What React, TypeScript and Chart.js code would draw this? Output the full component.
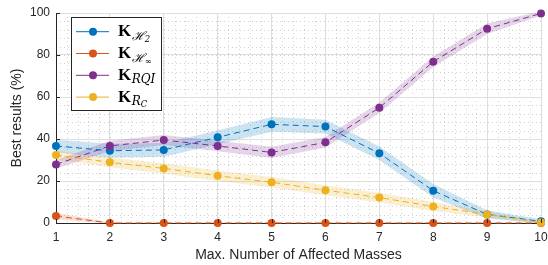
import React, { useEffect, useRef } from 'react';
import { Chart, registerables } from 'chart.js';
Chart.register(...registerables);

const categories = [1, 2, 3, 4, 5, 6, 7, 8, 9, 10];
const xTickLabels = ['1', '2', '3', '4', '5', '6', '7', '8', '9', '10'];
const yTickValues = [0, 20, 40, 60, 80, 100];

const kH2 = [36.7, 34.4, 34.8, 40.8, 47.0, 45.9, 33.2, 15.4, 4.1, 0.8];
const kHinf = [3.3, 0, 0, 0, 0, 0, 0, 0, 0, 0];
const kRQI = [27.9, 36.7, 39.5, 36.7, 33.6, 38.4, 54.9, 76.8, 92.5, 99.8];
const kRC = [32.4, 28.9, 26.0, 22.5, 19.4, 15.6, 12.1, 7.9, 4.1, 0.2];

const spreadH2 = [3.0, 3.3, 3.3, 3.3, 3.5, 3.3, 3.2, 3.2, 2.0, 1.0];
const spreadHinf = [1.5, 0.3, 0.3, 0.3, 0.3, 0.3, 0.3, 0.3, 0.3, 0.3];
const spreadRQI = [2.0, 2.5, 2.4, 2.5, 2.7, 2.5, 2.5, 2.5, 2.5, 1.0];
const spreadRC = [2.0, 2.3, 2.5, 2.5, 2.5, 2.4, 2.3, 2.2, 1.5, 0.5];

const BLUE = '#0072BD';
const ORANGE = '#D95319';
const YELLOW = '#EDB120';
const PURPLE = '#7E2F8E';

const seriesDefs = [
  { name: 'H2', values: kH2, spread: spreadH2, color: BLUE, band: 'rgba(0,114,189,0.2)', order: 3 },
  { name: 'Hinf', values: kHinf, spread: spreadHinf, color: ORANGE, band: 'rgba(217,83,25,0.2)', order: 2 },
  { name: 'RQI', values: kRQI, spread: spreadRQI, color: PURPLE, band: 'rgba(126,47,142,0.2)', order: 1 },
  { name: 'RC', values: kRC, spread: spreadRC, color: YELLOW, band: 'rgba(237,177,32,0.2)', order: 0 },
];

const legendItems = [
  { color: BLUE, parts: [{ t: '\u210B', s: 1 }, { t: '2', s: 2 }] },
  { color: ORANGE, parts: [{ t: '\u210B', s: 1 }, { t: '\u221E', s: 2 }] },
  { color: PURPLE, parts: [{ t: 'RQI', s: 1 }] },
  { color: YELLOW, parts: [{ t: 'R', s: 1 }, { t: 'C', s: 2 }] },
];

const AXIS = '#262626';

const minorGridPlugin = {
  id: 'minorGrid',
  beforeDraw(chart: any) {
    const { ctx, chartArea: a, scales } = chart;
    const xs = scales.x;
    const ys = scales.y;
    ctx.save();
    ctx.strokeStyle = '#d2d2d2';
    ctx.lineWidth = 1;
    ctx.setLineDash([1, 3]);
    for (let v = 1; v <= 10.0001; v += 0.2) {
      const px = Math.round(xs.getPixelForValue(v)) + 0.5;
      ctx.beginPath();
      ctx.moveTo(px, a.top);
      ctx.lineTo(px, a.bottom);
      ctx.stroke();
    }
    for (let v = 0; v <= 100.0001; v += 4) {
      const py = Math.round(ys.getPixelForValue(v)) + 0.5;
      ctx.beginPath();
      ctx.moveTo(a.left, py);
      ctx.lineTo(a.right, py);
      ctx.stroke();
    }
    ctx.restore();
  },
};

const ticksLegendPlugin = {
  id: 'ticksLegend',
  afterDraw(chart: any) {
    const { ctx, chartArea: a, scales } = chart;
    const xs = scales.x;
    const ys = scales.y;
    ctx.save();
    ctx.strokeStyle = AXIS;
    ctx.lineWidth = 1;
    ctx.setLineDash([]);
    yTickValues.forEach((v) => {
      const py = Math.round(ys.getPixelForValue(v)) + 0.5;
      ctx.beginPath();
      ctx.moveTo(a.left, py);
      ctx.lineTo(a.left + 4, py);
      ctx.stroke();
    });
    categories.forEach((v) => {
      const px = Math.round(xs.getPixelForValue(v)) + 0.5;
      ctx.beginPath();
      ctx.moveTo(px, a.bottom);
      ctx.lineTo(px, a.bottom - 4);
      ctx.stroke();
    });

    // legend
    const bx = 71.5, by = 17.5, bw = 90, bh = 93;
    ctx.fillStyle = '#ffffff';
    ctx.fillRect(bx, by, bw, bh);
    ctx.strokeStyle = AXIS;
    ctx.strokeRect(bx, by, bw, bh);
    legendItems.forEach((it, i) => {
      const cy = 31.7 + i * 21.8;
      ctx.strokeStyle = it.color;
      ctx.lineWidth = 1;
      ctx.beginPath();
      ctx.moveTo(76, cy);
      ctx.lineTo(109, cy);
      ctx.stroke();
      ctx.fillStyle = it.color;
      ctx.beginPath();
      ctx.arc(93, cy, 4, 0, Math.PI * 2);
      ctx.fill();
      let x = 118;
      const base = cy + 4.5;
      ctx.fillStyle = '#000000';
      ctx.textBaseline = 'alphabetic';
      ctx.textAlign = 'left';
      ctx.font = 'bold 17px "Liberation Serif"';
      ctx.fillText('K', x, base);
      x += ctx.measureText('K').width + 0.5;
      it.parts.forEach((p) => {
        if (p.s === 1) {
          ctx.font = 'italic 12px "DejaVu Serif"';
          ctx.fillText(p.t, x, base + 3.5);
        } else {
          ctx.font = 'italic 8.5px "DejaVu Serif"';
          ctx.fillText(p.t, x, base + 5.5);
        }
        x += ctx.measureText(p.t).width;
      });
    });
    ctx.restore();
  },
};

export default function App() {
  const ref = useRef<HTMLCanvasElement | null>(null);
  useEffect(() => {
    if (!ref.current) return;
    const datasets: any[] = [];
    seriesDefs.forEach((s) => {
      datasets.push({
        label: s.name,
        data: categories.map((c, i) => ({ x: c, y: s.values[i] })),
        borderColor: s.color,
        backgroundColor: s.color,
        borderWidth: 1,
        borderDash: [6, 4],
        pointRadius: 4,
        pointBorderWidth: 0,
        pointBackgroundColor: s.color,
        fill: false,
        clip: false,
        order: s.order,
      });
    });
    seriesDefs.forEach((s, k) => {
      const lowIdx = datasets.length;
      datasets.push({
        label: s.name + ' low',
        data: categories.map((c, i) => ({ x: c, y: s.values[i] - s.spread[i] })),
        borderWidth: 0,
        pointRadius: 0,
        fill: false,
        order: 20 + k * 2,
      });
      datasets.push({
        label: s.name + ' high',
        data: categories.map((c, i) => ({ x: c, y: s.values[i] + s.spread[i] })),
        borderWidth: 0,
        pointRadius: 0,
        backgroundColor: s.band,
        fill: { target: lowIdx },
        order: 20 + k * 2 + 1,
      });
    });

    const chart = new Chart(ref.current, {
      type: 'line',
      data: { datasets },
      options: {
        animation: false,
        responsive: false,
        layout: { padding: { top: 13, right: 7, left: 0, bottom: 0 } },
        plugins: {
          legend: { display: false },
          tooltip: { enabled: false },
        },
        scales: {
          x: {
            type: 'linear',
            min: 1,
            max: 10,
            afterBuildTicks: (scale: any) => {
              scale.ticks = categories.map((v) => ({ value: v }));
            },
            afterFit: (scale: any) => {
              scale.height = 42;
              scale.paddingLeft = 0;
              scale.paddingRight = 0;
            },
            ticks: {
              callback: (_v: any, i: number) => xTickLabels[i],
              color: AXIS,
              font: { family: '"Liberation Sans"', size: 12 },
              padding: 7,
              maxRotation: 0,
            },
            grid: { color: '#dedede', drawTicks: false },
            border: { display: true, color: AXIS, width: 1 },
            title: {
              display: true,
              text: 'Max. Number of Affected Masses',
              color: AXIS,
              font: { family: '"Liberation Sans"', size: 14 },
              padding: { top: 0, bottom: 1.6 },
            },
          },
          y: {
            type: 'linear',
            min: 0,
            max: 100,
            afterBuildTicks: (scale: any) => {
              scale.ticks = yTickValues.map((v) => ({ value: v }));
            },
            afterFit: (scale: any) => {
              scale.width = 56;
              scale.paddingTop = 0;
              scale.paddingBottom = 0;
            },
            ticks: {
              color: AXIS,
              font: { family: '"Liberation Sans"', size: 12 },
              padding: 6,
            },
            grid: { color: '#dedede', drawTicks: false },
            border: { display: true, color: AXIS, width: 1 },
            title: {
              display: true,
              text: 'Best results (%)',
              color: AXIS,
              font: { family: '"Liberation Sans"', size: 14 },
              padding: { top: 8.6, bottom: 0 },
            },
          },
        },
      },
      plugins: [minorGridPlugin, ticksLegendPlugin],
    } as any);
    return () => chart.destroy();
  }, []);
  return (
    <div style={{ position: 'fixed', left: 0, top: 0, width: 548, height: 265, background: '#fff' }}>
      <canvas ref={ref} width={548} height={265} />
    </div>
  );
}
